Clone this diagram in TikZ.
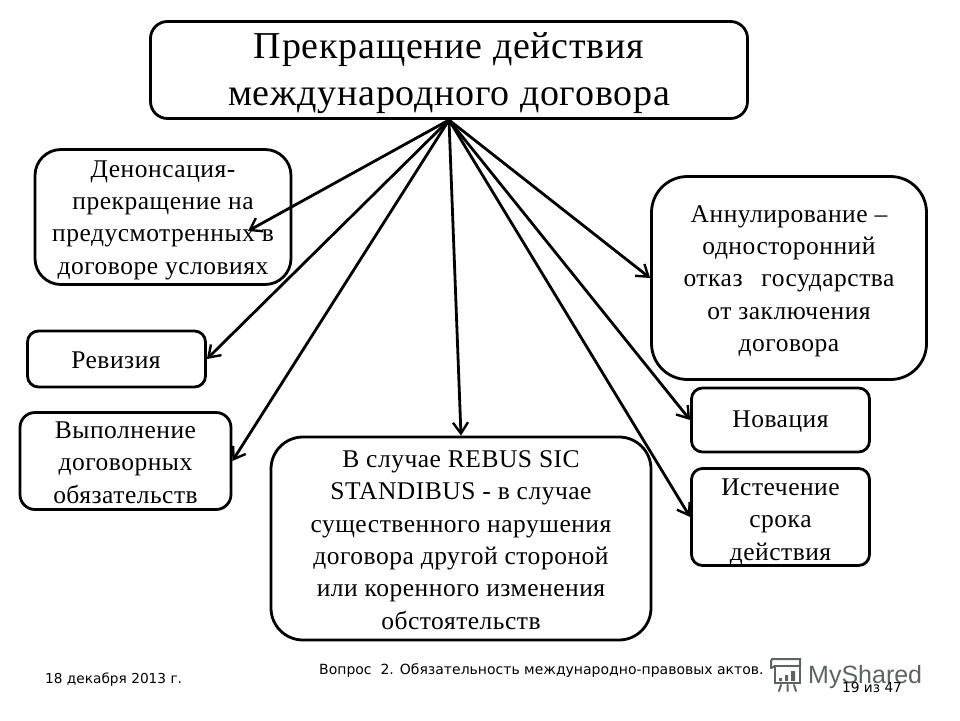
\documentclass[tikz,border=0pt]{standalone}
\usepackage{fontspec}
\setmainfont{Liberation Serif}
\newfontfamily\foot{DejaVu Sans}
\newfontfamily\logofont{Liberation Sans}
\usetikzlibrary{arrows.meta}
\definecolor{logogrey}{HTML}{5A6560}
\tikzset{
  box/.style={draw=black,line width=2.8pt,fill=white,rounded corners=#1},
  box/.default=20pt,
  lbl/.style={align=center,inner sep=0pt,font=\fontsize{25.5}{32.3}\selectfont\addfontfeature{LetterSpace=2}},
  conn/.style={draw=black,line width=2.8pt,-{Straight Barb[length=11pt,width=15pt,line width=2.4pt]}},
  foottext/.style={font=\foot\fontsize{13.7}{16}\selectfont,inner sep=0pt,anchor=west},
}
\begin{document}
\begin{tikzpicture}[x=1pt,y=-1pt]
\useasboundingbox (0,0) rectangle (960,720);
\fill[white] (0,0) rectangle (960,720);
\node[box=17pt,minimum width=597pt,minimum height=97pt] (title) at (449,70) {};
\node[lbl,font=\fontsize{38}{47}\selectfont\addfontfeature{LetterSpace=2}] (titlet) at (449,73) {Прекращение действия\\международного договора};
\node[box=26pt,minimum width=256pt,minimum height=135pt] (den) at (163,217) {};
\node[lbl] (dent) at (163,220) {Денонсация-\\прекращение на\\предусмотренных в\\договоре условиях};
\node[box=11pt,minimum width=178pt,minimum height=56pt] (rev) at (116.5,359) {};
\node[lbl] (revt) at (116,360.5) {Ревизия};
\node[box=15pt,minimum width=211pt,minimum height=97pt] (vyp) at (125.5,461) {};
\node[lbl] (vypt) at (125.5,462.5) {Выполнение\\договорных\\обязательств};
\node[box=32pt,minimum width=380pt,minimum height=203pt] (reb) at (461,538.5) {};
\node[lbl] (rebt) at (461,540) {В случае REBUS SIC\\STANDIBUS - в случае\\существенного нарушения\\договора другой стороной\\или коренного изменения\\обстоятельств};
\node[box=36pt,minimum width=275pt,minimum height=203pt] (ann) at (789,278) {};
\node[lbl] (annt) at (789,281) {Аннулирование –\\односторонний\\отказ\hspace{12pt} государства\\от заключения\\договора};
\node[box=11pt,minimum width=178pt,minimum height=64pt] (nov) at (780.5,420) {};
\node[lbl] (novt) at (780.5,422) {Новация};
\node[box=11pt,minimum width=178pt,minimum height=97pt] (ist) at (780.5,517) {};
\node[lbl] (istt) at (780.5,522) {Истечение\\срока\\действия};
\coordinate (apex) at (449,120);
\coordinate (denend) at (248,231);
\draw[conn] (apex) -- (denend);
\draw[conn] (apex) -- (rev.east);
\draw[conn] (apex) -- (vyp.east);
\draw[conn] (apex) -- (reb.north);
\draw[conn] (apex) -- (ann.west);
\draw[conn] (apex) -- (nov.west);
\draw[conn] (apex) -- (ist.west);
% footer
\node[foottext] (date) at (45,680) {18 декабря 2013 г.};
\node[foottext,font=\foot\fontsize{14}{16}\selectfont] (q) at (319,671) {Вопрос\ \ 2. Обязательность международно-правовых актов.};
% logo
\begin{scope}[draw=logogrey,line width=2pt,line cap=round]
\draw (775,666) rectangle (800,683);
\draw (771,668) -- (771,661) .. controls (771,659) and (773,658) .. (775,659) -- (800,659) -- (800,666);
\draw (771,668) -- (775,666);
\fill[logogrey] (779,678) rectangle (782,681) (785,675) rectangle (788,681) (791,671) rectangle (795,681);
\draw (781,685) -- (779,691) (787.5,685) -- (787.5,691) (794,685) -- (796,691);
\end{scope}
\node[font=\logofont\fontsize{25}{30}\selectfont,text=logogrey,inner sep=0pt,anchor=base west] (logo) at (808,683) {MyShared};
\node[foottext] (pg) at (842,688) {19 из 47};
\end{tikzpicture}
\end{document}
